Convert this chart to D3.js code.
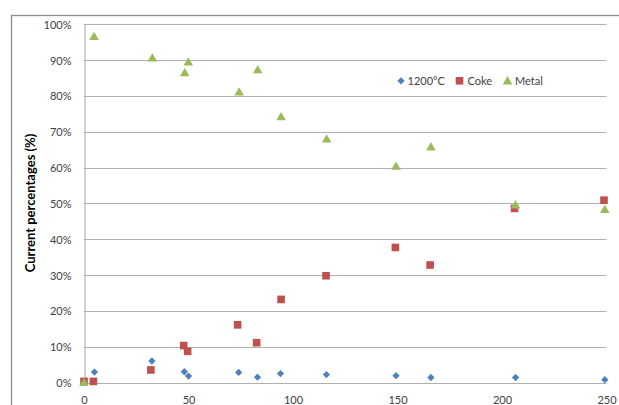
<!DOCTYPE html>
<html>
<head>
<meta charset="utf-8">
<script src="https://cdn.jsdelivr.net/npm/d3@7"></script>
<style>
  html, body { margin: 0; padding: 0; background: #fff; }
  svg { display: block; }
  text { font-family: Lato, "Liberation Sans", sans-serif; }
</style>
</head>
<body>
<div class="viewbox"></div>
<script>
  // values (x = time, y = fraction of current)
  const xTemp = [5, 32.5, 48, 50, 74, 83, 94, 116, 149.3, 166, 206.5, 249.2]
  const yTemp = [0.029, 0.060, 0.030, 0.018, 0.028, 0.015, 0.025, 0.022, 0.019, 0.014, 0.014, 0.008]

  const xCoke = [0, 4.5, 32, 47.7, 49.6, 73.5, 82.6, 94.3, 115.8, 149, 165.6, 206, 248.8]
  const yCoke = [0.003, 0.003, 0.035, 0.103, 0.087, 0.161, 0.111, 0.232, 0.298, 0.377, 0.328, 0.486, 0.509]

  const xMetal = [0, 4.8, 32.7, 48.2, 49.9, 74.2, 83.1, 94.3, 116.1, 149.3, 166, 206.5, 249.2]
  const yMetal = [0, 0.966, 0.906, 0.865, 0.895, 0.811, 0.873, 0.742, 0.680, 0.604, 0.658, 0.496, 0.483]

  const xTicks = [0, 50, 100, 150, 200, 250]
  const yTicks = [0, 0.1, 0.2, 0.3, 0.4, 0.5, 0.6, 0.7, 0.8, 0.9, 1.0]

  const seriesNames = ["1200°C", "Coke", "Metal"]
  const COLORS = ["#4F81BD", "#C0504D", "#9BBB59"]

  const svg_width = 619;
  const svg_height = 405;

  let svg = d3.select(".viewbox")
    .append("svg")
    .attr("width", svg_width)
    .attr("height", svg_height)

  // chart frame (runs off the right and bottom edges)
  svg.append("rect")
    .attr("x", 11.5).attr("y", 15.5)
    .attr("width", 640).attr("height", 420)
    .attr("fill", "#fff")
    .attr("stroke", "#8c8c8c")
    .attr("stroke-width", 1.3)

  let x = d3.scaleLinear().domain([0, 250]).range([84, 606.5])
  let y = d3.scaleLinear().domain([0, 1]).range([382.5, 24.3])

  // gridlines
  svg.append("g")
    .selectAll("line")
    .data(yTicks)
    .enter()
    .append("line")
    .attr("x1", x(0)).attr("x2", x(250))
    .attr("y1", d => Math.round(y(d)) + 0.5)
    .attr("y2", d => Math.round(y(d)) + 0.5)
    .attr("stroke", "#b0b0b0")
    .attr("stroke-width", 1)

  // y axis
  let yAxis = svg.append("g")
    .attr("transform", "translate(84.5,0)")
    .call(d3.axisLeft(y).tickValues(yTicks).tickSize(0).tickPadding(13)
      .tickFormat(d3.format(".0%")))
  yAxis.select(".domain").attr("stroke", "#a6a6a6")
  yAxis.selectAll("text")
    .attr("fill", "#404040")
    .style("font-size", "11px")
    .attr("dy", "0.36em")

  // x axis, labels sit at the bottom edge
  let xAxis = svg.append("g")
    .attr("transform", "translate(0,382.5)")
    .call(d3.axisBottom(x).tickValues(xTicks).tickSize(0).tickPadding(14))
  xAxis.select(".domain").remove()
  xAxis.selectAll("text")
    .attr("fill", "#404040")
    .style("font-size", "11px")
    .attr("dy", "0.71em")

  // y title
  svg.append("text")
    .attr("transform", "translate(35,203) rotate(-90)")
    .attr("text-anchor", "middle")
    .style("font-size", "13px")
    .style("font-weight", "bold")
    .attr("fill", "#000")
    .text("Current percentages (%)")

  const diamond = d3.symbol().type(d3.symbolDiamond2).size(34)
  const square = d3.symbol().type(d3.symbolSquare).size(58)
  const triangle = d3.symbol().type(d3.symbolTriangle).size(40)
  const shapes = [diamond, square, triangle]

  const seriesData = [
    xTemp.map((v, i) => ({ x: v, y: yTemp[i] })),
    xCoke.map((v, i) => ({ x: v, y: yCoke[i] })),
    xMetal.map((v, i) => ({ x: v, y: yMetal[i] }))
  ]

  seriesData.forEach((pts, s) => {
    svg.append("g")
      .selectAll("path")
      .data(pts)
      .enter()
      .append("path")
      .attr("d", shapes[s])
      .attr("transform", d => `translate(${x(d.x)},${y(d.y) + (s === 2 ? 0.8 : 0)})`)
      .attr("fill", COLORS[s])
  })

  // legend
  const legendX = [401, 459.5, 507.5]
  const legendTextX = [407.5, 467.5, 515]
  let legend = svg.append("g")
  seriesNames.forEach((name, s) => {
    legend.append("path")
      .attr("d", shapes[s])
      .attr("transform", `translate(${legendX[s]},${80.8 + (s === 2 ? 0.8 : 0)})`)
      .attr("fill", COLORS[s])
    legend.append("text")
      .attr("x", legendTextX[s])
      .attr("y", 84.8)
      .style("font-size", "11px")
      .attr("fill", "#404040")
      .text(name)
  })
</script>
</body>
</html>
